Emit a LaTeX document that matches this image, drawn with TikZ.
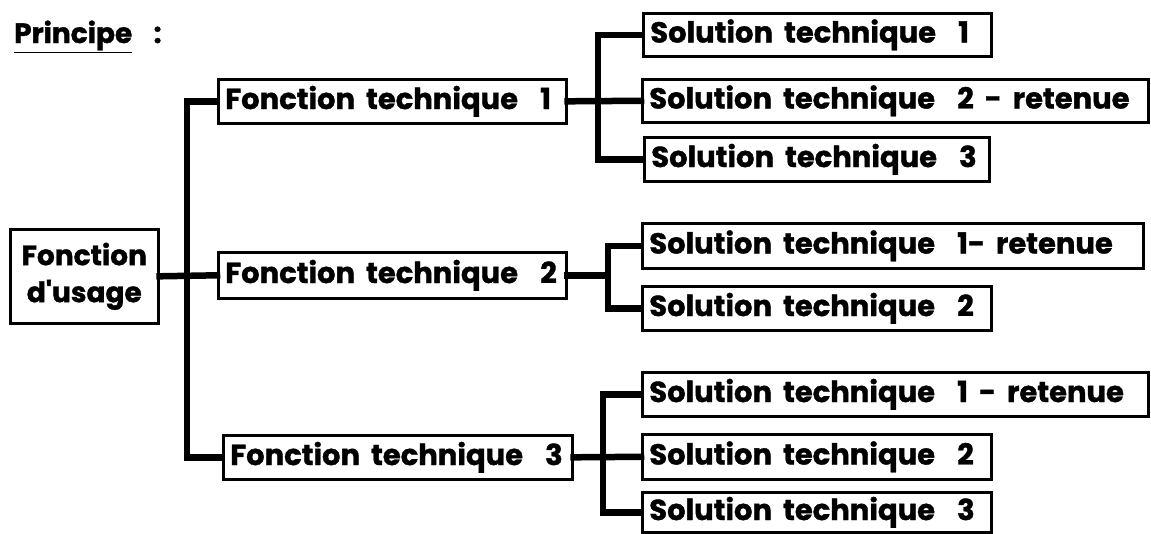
\documentclass[tikz,border=0pt]{standalone}
\usepackage{fontspec}
\setmainfont{Poppins}[BoldFeatures={FakeBold=1.2, WordSpace=1.8}]
% left-aligned label of fixed width, never broken across lines
\newcommand{\fixlabel}[2]{\makebox[#1][l]{#2}}
\begin{document}
\begin{tikzpicture}[x=1pt,y=-1pt,
  lbl/.style={font=\fontsize{29}{33}\selectfont\bfseries},
  box/.style={lbl, draw, line width=2.6pt, inner xsep=7pt, inner ysep=0pt,
    anchor=north west},
  conn/.style={line width=6.5pt, line join=miter, line cap=rect}]
\useasboundingbox (0,0) rectangle (1151,533);

% title
\node[font=\fontsize{28}{32}\selectfont\bfseries, anchor=base west, inner sep=0]
  (titre) at (14,43) {\underline{Principe}\ \ :};

% root
\node[font=\fontsize{28}{37}\selectfont\bfseries, draw, line width=2.6pt,
  anchor=north west, align=center, minimum width=148pt, minimum height=94pt,
  inner sep=0] (usage) at (9,228) {Fonction\\d\textquotesingle usage};

% technical functions
\node[box, minimum height=44pt] (f1) at (217,78) {\fixlabel{334pt}{Fonction technique~ 1}};
\node[box, minimum height=46pt] (f2) at (217,251) {\fixlabel{334pt}{Fonction technique~ 2}};
\node[box, minimum height=44pt] (f3) at (222,434) {\fixlabel{335pt}{Fonction technique~ 3}};

% solutions
\node[box, minimum height=43pt] (s11) at (642,12) {\fixlabel{334pt}{Solution technique~ 1}};
\node[box, minimum height=43pt] (s12) at (641,78) {\fixlabel{492pt}{Solution technique~ 2 - retenue}};
\node[box, minimum height=44pt] (s13) at (643,136) {\fixlabel{331pt}{Solution technique~ 3}};
\node[box, minimum height=45pt] (s21) at (641,222) {\fixlabel{487pt}{Solution technique~ 1- retenue}};
\node[box, minimum height=44pt] (s22) at (641,285) {\fixlabel{335pt}{Solution technique~ 2}};
\node[box, minimum height=44pt] (s31) at (641,371) {\fixlabel{492pt}{Solution technique~ 1 - retenue}};
\node[box, minimum height=45pt] (s32) at (641,433) {\fixlabel{335pt}{Solution technique~ 2}};
\node[box, minimum height=40pt] (s33) at (641,491) {\fixlabel{335pt}{Solution technique~ 3}};

% x positions of the vertical buses
\coordinate (b0) at (187,0);
\coordinate (b1) at (598,0);
\coordinate (b2) at (608,0);
\coordinate (b3) at (603,0);

% connectors
\draw[conn] (usage.east) -- (f2.west);
\draw[conn] (f1.west) -- (f1.west -| b0) -- (f3.west -| b0) -- (f3.west);
\draw[conn] (f1.east) -- (s12.west);
\draw[conn] (s11.west) -- (s11.west -| b1) -- (s13.west -| b1) -- (s13.west);
\draw[conn] (f2.east) -- (f2.east -| b2);
\draw[conn] (s21.west) -- (s21.west -| b2) -- (s22.west -| b2) -- (s22.west);
\draw[conn] (f3.east) -- (s32.west);
\draw[conn] (s31.west) -- (s31.west -| b3) -- (s33.west -| b3) -- (s33.west);
\end{tikzpicture}
\end{document}
